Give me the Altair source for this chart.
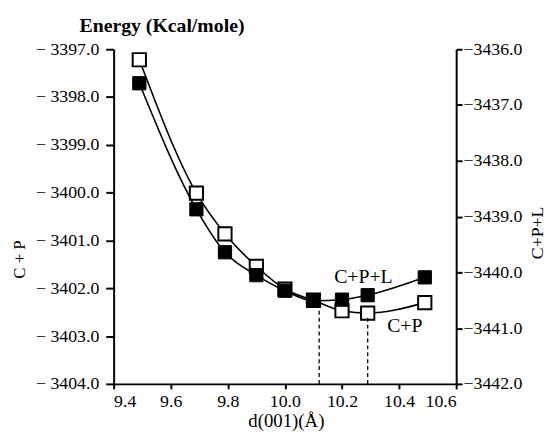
import altair as alt
import pandas as pd

# d(001) spacing (Å)
d_vals = [9.49, 9.69, 9.79, 9.90, 10.00, 10.10, 10.20, 10.29, 10.49]
# C+P energies (left axis, kcal/mole) - open squares
e_cp = [-3397.22, -3400.01, -3400.86, -3401.54, -3402.02, -3402.25, -3402.47, -3402.52, -3402.30]
# C+P+L energies (right axis, kcal/mole) - filled squares
e_cpl = [-3436.61, -3438.87, -3439.64, -3440.05, -3440.33, -3440.51, -3440.49, -3440.41, -3440.09]

# dashed markers of minima
min_d = [10.12, 10.29]
min_e = [-3402.29, -3402.56]

left_ticks = [-3404, -3403, -3402, -3401, -3400, -3399, -3398, -3397]
right_ticks = [-3442, -3441, -3440, -3439, -3438, -3437, -3436]
x_ticks = [9.4, 9.6, 9.8, 10.0, 10.2, 10.4, 10.6]

FONT = "Liberation Serif"

df_cp = pd.DataFrame({"d": d_vals, "e": e_cp})
df_cpl = pd.DataFrame({"d": d_vals, "e": e_cpl})
df_min = pd.DataFrame({"d": min_d, "e0": [-3404, -3404], "e": min_e})
df_lab = pd.DataFrame({"d": [10.275, 10.42], "e": [-3401.77, -3402.79], "t": ["C+P+L", "C+P"]})

xscale = alt.Scale(domain=[9.4, 10.6], nice=False, zero=False)
xaxis = alt.Axis(values=x_ticks, format=".1f", title=None, grid=False,
                 tickSize=5, labelPadding=4)

lscale = alt.Scale(domain=[-3404, -3397], nice=False, zero=False)
laxis = alt.Axis(orient="left", values=left_ticks, title=None, grid=False,
                 labelExpr="'\u2212 ' + format(abs(datum.value), '.1f')",
                 tickSize=8, labelPadding=7)
rscale = alt.Scale(domain=[-3442, -3436], nice=False, zero=False)
raxis = alt.Axis(orient="right", values=right_ticks, title=None, grid=False,
                 labelExpr="'\u2212' + format(abs(datum.value), '.1f')",
                 tickSize=6, labelPadding=1)

X = alt.X("d:Q", scale=xscale, axis=xaxis)

line_cp = alt.Chart(df_cp).mark_line(color="black", strokeWidth=1.6, interpolate="monotone").encode(
    x=X, y=alt.Y("e:Q", scale=lscale, axis=laxis))
pts_cp = alt.Chart(df_cp).mark_point(shape="square", size=180, filled=True, fill="white",
                                     stroke="black", strokeWidth=2, opacity=1).encode(
    x=X, y=alt.Y("e:Q", scale=lscale, axis=laxis))
rules = alt.Chart(df_min).mark_rule(color="black", strokeWidth=1.3, strokeDash=[4, 3]).encode(
    x=X, y=alt.Y("e0:Q", scale=lscale, axis=laxis), y2="e:Q")
labels = alt.Chart(df_lab).mark_text(font=FONT, fontSize=20, color="black").encode(
    x=X, y=alt.Y("e:Q", scale=lscale, axis=laxis), text="t:N")

title_df = pd.DataFrame({"t": ["x"]})
title = alt.Chart(title_df).mark_text(text="Energy (Kcal/mole)", font=FONT, fontSize=20,
                                       fontWeight="bold", color="black").encode(
    x=alt.value(49), y=alt.value(-23))
ltitle = alt.Chart(title_df).mark_text(text="C + P", font=FONT, fontSize=17, angle=270,
                                        color="black").encode(x=alt.value(-95), y=alt.value(213))
rtitle = alt.Chart(title_df).mark_text(text="C+P+L", font=FONT, fontSize=18, angle=270,
                                        color="black").encode(x=alt.value(430), y=alt.value(186))
xtitle = alt.Chart(title_df).mark_text(text="d(001)(\u00c5)", font=FONT, fontSize=19,
                                        baseline="alphabetic",
                                        color="black").encode(x=alt.value(175), y=alt.value(383))

left = alt.layer(line_cp, pts_cp, rules, labels, title, ltitle, rtitle, xtitle)

line_cpl = alt.Chart(df_cpl).mark_line(color="black", strokeWidth=1.6, interpolate="monotone").encode(
    x=X, y=alt.Y("e:Q", scale=rscale, axis=raxis))
pts_cpl = alt.Chart(df_cpl).mark_point(shape="square", size=180, filled=True, fill="black",
                                       stroke="black", strokeWidth=1, opacity=1).encode(
    x=X, y=alt.Y("e:Q", scale=rscale, axis=raxis))
right = alt.layer(line_cpl, pts_cpl)

chart = alt.layer(left, right).resolve_scale(y="independent").properties(
    width=347, height=339,
    background="white",
    autosize=alt.AutoSizeParams(type="none"),
    padding={"left": 107, "top": 39, "right": 92, "bottom": 49},
).configure_view(stroke=None).configure_axis(
    domainColor="black", domainWidth=2, tickColor="black", tickWidth=2,
    labelFont=FONT, labelFontSize=18, labelColor="black",
)

chart.save("out.html", embed_options={"renderer": "svg", "actions": False})
